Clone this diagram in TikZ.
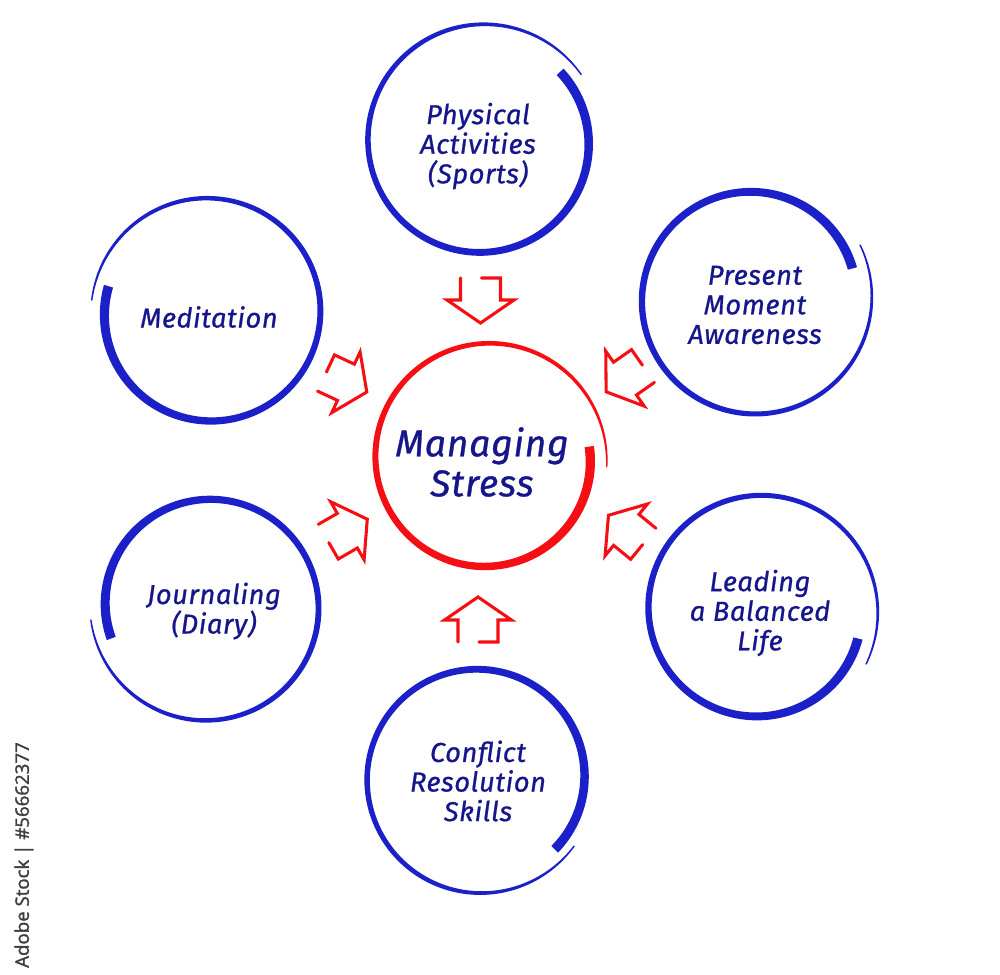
\documentclass[tikz,border=0pt]{standalone}
\usepackage{fontspec}
\newfontfamily\handfont{Fira Sans}[LetterSpace=2,FakeBold=0.8]
\newfontfamily\wmfont{Open Sans}[FakeBold=1.6]
\definecolor{ringblue}{RGB}{28,32,200}
\definecolor{txtblue}{RGB}{22,22,140}
\definecolor{ringred}{RGB}{245,15,20}
\definecolor{wmgray}{RGB}{62,62,62}
% brush ring: cx, cy (image px, y down), start angle, sweep, start radius, end radius, extra start thickness, tail width, colour
\newcommand{\brushring}[9]{%
  \fill[#9] plot[domain=0:1,samples=160]
    ({#1+(#5+(#6-#5)*\x+0.5*(#8+3.6*(1-\x^6)+#7*(1-\x)^2))*cos(#3+#4*\x)},
     {-#2+(#5+(#6-#5)*\x+0.5*(#8+3.6*(1-\x^6)+#7*(1-\x)^2))*sin(#3+#4*\x)})
  -- plot[domain=0:1,samples=160]
    ({#1+(#5+(#6-#5)*(1-\x)-0.5*(#8+3.6*(1-(1-\x)^6)+#7*\x^2))*cos(#3+#4*(1-\x))},
     {-#2+(#5+(#6-#5)*(1-\x)-0.5*(#8+3.6*(1-(1-\x)^6)+#7*\x^2))*sin(#3+#4*(1-\x))})
  -- cycle;}
% open block arrow: tail-mid x, y (image px), direction angle, drawn side (+1/-1)
\newcommand{\openarrow}[4]{%
  \begin{scope}[shift={(#1,-#2)},rotate=#3]
    \draw[arrowline] (0,{#4*1}) -- (0,{#4*20}) -- (22,{#4*20}) -- (22,{#4*33.5})
      -- (45,0) -- (22,{-#4*33.5}) -- (22,{-#4*20}) -- (0,{-#4*20});
  \end{scope}}
\tikzset{
  arrowline/.style={draw=ringred,line width=2.3pt,line join=miter,line cap=round},
  label/.style={text=txtblue,align=center,inner sep=0pt,
    font=\handfont\itshape\fontsize{20.5}{22.2}\selectfont},
  biglabel/.style={text=txtblue,align=center,inner sep=0pt,
    font=\handfont\itshape\fontsize{28}{30}\selectfont},
}
\begin{document}
\begin{tikzpicture}[x=0.75pt,y=0.75pt]
\useasboundingbox (0,0) rectangle (1000,-975);
\fill[white] (0,0) rectangle (1000,-975);

% rings
\brushring{482}{142}{42}{-368}{105}{120}{4.5}{1.4}{ringblue}
\brushring{209}{313}{165}{369}{104}{118}{4.5}{1.4}{ringblue}
\brushring{753}{299}{17}{370}{104}{120}{4.5}{1.4}{ringblue}
\brushring{487}{459}{7}{-371}{103}{120}{4.5}{1.4}{ringred}
\brushring{208}{606}{198.6}{-372}{102}{118}{4.5}{1.4}{ringblue}
\brushring{759}{610}{-16}{-371}{103}{120}{4.5}{1.4}{ringblue}
\brushring{479}{778}{-43.4}{368}{104}{117}{4.5}{1.4}{ringblue}

% arrows
\openarrow{480.5}{278}{-90}{1}
\openarrow{326}{373}{-25}{1}
\openarrow{643}{366}{215}{-1}
\openarrow{328.3}{541.7}{30}{-1}
\openarrow{643.3}{543.8}{140.7}{1}
\openarrow{478}{642}{90}{-1}

% labels
\node[label] (phys) at (478,-146) {Physical\\Activities\\(Sports)};
\node[label] (medi) at (209,-317) {Meditation};
\node[label] (pres) at (755,-305) {Present\\Moment\\Awareness};
\node[biglabel] (stress) at (482,-462) {Managing\\Stress};
\node[label] (jour) at (214,-611) {Journaling\\(Diary)};
\node[label] (lead) at (760,-613) {Leading\\a Balanced\\Life};
\node[label] (conf) at (478,-781) {Conflict\\Resolution\\Skills};

% side stamp
\node[text=wmgray,rotate=90,inner sep=0pt,font=\wmfont\fontsize{14}{16}\selectfont]
  (stamp) at (24,-855) {Adobe Stock | \#56662377};
\end{tikzpicture}
\end{document}
